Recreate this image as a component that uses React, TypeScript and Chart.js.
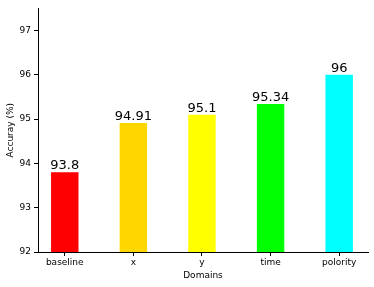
import React, { useEffect, useRef } from "react";
import { Chart, registerables } from "chart.js";

Chart.register(...registerables);

const categories = ["baseline", "x", "y", "time", "polority"];
const accuracy = [93.8, 94.91, 95.1, 95.34, 96];
const valueLabels = ["93.8", "94.91", "95.1", "95.34", "96"];
const barColors = ["#ff0000", "#ffd700", "#ffff00", "#00ff00", "#00ffff"];

const FONT = "'DejaVu Sans', sans-serif";

const valueLabelPlugin = {
  id: "valueLabels",
  afterDatasetsDraw(chart: any) {
    const ctx = chart.ctx;
    const meta = chart.getDatasetMeta(0);
    ctx.save();
    ctx.font = `13px ${FONT}`;
    ctx.fillStyle = "#000";
    ctx.textAlign = "center";
    ctx.textBaseline = "alphabetic";
    meta.data.forEach((bar: any, i: number) => {
      ctx.fillText(valueLabels[i], bar.x, bar.y - 3);
    });
    ctx.restore();
  },
};

export default function App() {
  const ref = useRef<HTMLCanvasElement>(null);
  useEffect(() => {
    document.body.style.margin = "0";
    const chart = new Chart(ref.current!, {
      type: "bar",
      data: {
        datasets: [
          {
            data: accuracy.map((v, i) => ({ x: i, y: v })),
            backgroundColor: barColors,
            borderWidth: 0,
            barPercentage: 0.4,
            categoryPercentage: 1,
          },
        ],
      },
      options: {
        animation: false,
        responsive: false,
        layout: { padding: { top: 7, right: 6, left: 5, bottom: 6 } },
        plugins: { legend: { display: false }, tooltip: { enabled: false } },
        scales: {
          x: {
            type: "linear",
            offset: false,
            min: -0.39,
            max: 4.42,
            afterFit: (s: any) => {
              s.height = 29;
            },
            border: { display: true, color: "#000", width: 1 },
            grid: { offset: false, drawOnChartArea: false, drawTicks: true, tickLength: 4, color: "#000" },
            ticks: {
              stepSize: 1,
              includeBounds: false,
              autoSkip: false,
              maxRotation: 0,
              padding: 1,
              color: "#000",
              font: { family: FONT, size: 9 },
              callback: (v: any) => (Number.isInteger(v) && categories[v] !== undefined ? categories[v] : ""),
            },
            title: {
              display: true,
              text: "Domains",
              color: "#000",
              font: { family: FONT, size: 9 },
              padding: { top: 0, bottom: 0 },
            },
          },
          y: {
            min: 92,
            max: 97.5,
            afterFit: (s: any) => {
              s.width = 33;
            },
            border: { display: true, color: "#000", width: 1 },
            grid: { drawOnChartArea: false, drawTicks: true, tickLength: 4, color: "#000" },
            ticks: {
              stepSize: 1,
              includeBounds: false,
              padding: 3,
              color: "#000",
              font: { family: FONT, size: 9 },
            },
            title: {
              display: true,
              text: "Accuray (%)",
              color: "#000",
              font: { family: FONT, size: 9 },
              padding: { top: 0, bottom: 0 },
            },
          },
        },
      },
      plugins: [valueLabelPlugin],
    } as any);
    return () => chart.destroy();
  }, []);
  return (
    <div style={{ width: 374, height: 287 }}>
      <canvas ref={ref} width={374} height={287} style={{ display: "block" }} />
    </div>
  );
}
